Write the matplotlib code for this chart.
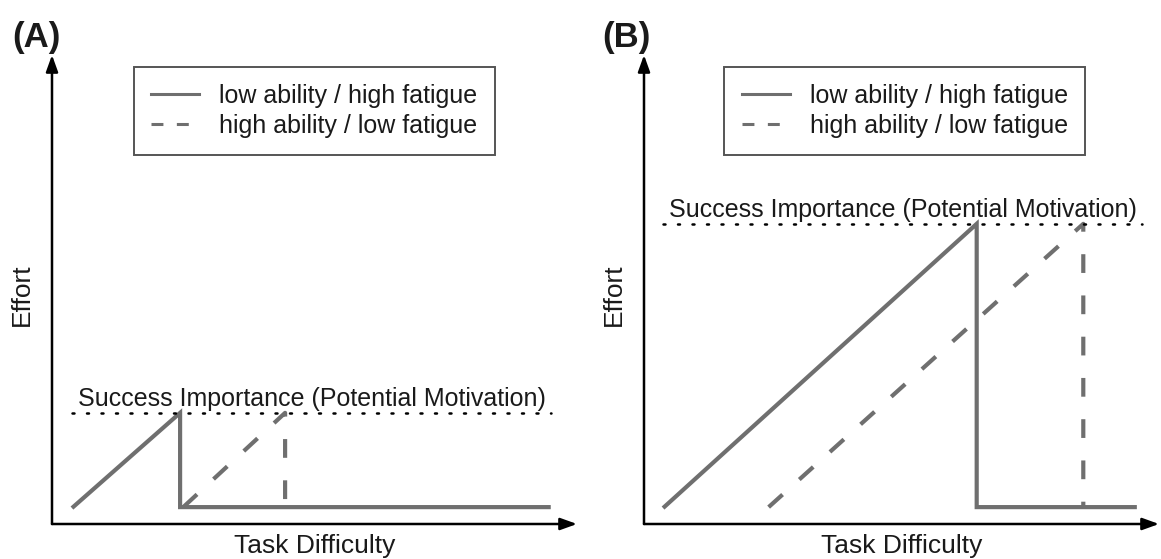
import matplotlib.pyplot as plt
from matplotlib.lines import Line2D

plt.rcParams['font.family'] = ['Liberation Sans', 'DejaVu Sans']

# values (axes run 0..100 in both panels)
panel_labels = ["(A)", "(B)"]
legend_labels = ["low ability / high fatigue", "high ability / low fatigue"]
potential_label = "Success Importance (Potential Motivation)"

a_low_x = [3.8, 24.4, 24.4, 95.0]
a_low_y = [3.4, 23.7, 3.6, 3.6]
a_high_x = [25.0, 44.4, 44.4]
a_high_y = [3.6, 23.7, 3.6]
a_potential = 23.7
a_potential_span = [3.8, 95.0]

b_low_x = [3.7, 64.6, 64.6, 95.7]
b_low_y = [3.4, 64.0, 3.6, 3.6]
b_high_x = [24.2, 85.3, 85.3]
b_high_y = [3.6, 64.0, 3.6]
b_potential = 64.0
b_potential_span = [3.7, 96.7]

LINE_GRAY = '#6f6f6f'
TEXT_COL = '#1a1a1a'
W, H = 1161, 559


def _axes_rect(left_px, right_px, bottom_px, top_px):
    return [left_px / W, (H - bottom_px) / H,
            (right_px - left_px) / W, (bottom_px - top_px) / H]


def _draw_panel(ax, low_x, low_y, high_x, high_y, potential, span, label, label_x_px):
    ax.set_xlim(0, 100)
    ax.set_ylim(0, 100)
    ax.axis('off')

    # axis arrows
    arrow = dict(arrowstyle='-|>,head_length=1.0,head_width=0.36', lw=1.8,
                 color='black', shrinkA=0, shrinkB=0)
    ax.annotate('', xy=(1, 0), xytext=(0, 0), xycoords='axes fraction',
                arrowprops=arrow, annotation_clip=False)
    ax.annotate('', xy=(0, 1), xytext=(0, 0), xycoords='axes fraction',
                arrowprops=arrow, annotation_clip=False)

    ax.plot(low_x, low_y, color=LINE_GRAY, lw=3, solid_joinstyle='miter',
            solid_capstyle='butt', clip_on=False)
    ax.plot(high_x, high_y, color=LINE_GRAY, lw=3, dashes=(4.5, 5.4),
            dash_capstyle='butt', clip_on=False)

    # potential motivation level
    ax.plot(span, [potential, potential], color='black', lw=1.8,
            dashes=(0.8, 5.0), dash_capstyle='round', clip_on=False)
    ax.annotate(potential_label, xy=(span[0], potential), xytext=(4, 5),
                textcoords='offset points', ha='left', va='baseline',
                fontsize=18, color=TEXT_COL)

    ax.annotate('Task Difficulty', xy=(0.5, 0), xycoords='axes fraction',
                xytext=(0, -7), textcoords='offset points', ha='center', va='top',
                fontsize=19, color=TEXT_COL, annotation_clip=False)
    ax.annotate('Effort', xy=(0, 0.49), xycoords='axes fraction',
                xytext=(-13, 0), textcoords='offset points', ha='right', va='center',
                rotation=90, fontsize=19, color=TEXT_COL, annotation_clip=False)

    handles = [
        Line2D([], [], color=LINE_GRAY, lw=2.2),
        Line2D([], [], color=LINE_GRAY, lw=2.2, dashes=(3.9, 4.4)),
    ]
    leg = ax.legend(handles, legend_labels, loc='upper left',
                    bbox_to_anchor=(0.156, 0.975), borderaxespad=0,
                    fontsize=18, handlelength=1.92, handletextpad=0.8,
                    borderpad=0.7, labelspacing=0.22, fancybox=False,
                    frameon=True, edgecolor='#555555', framealpha=1)
    leg.get_frame().set_linewidth(1.4)
    for t in leg.get_texts():
        t.set_color(TEXT_COL)

    ax.figure.text(label_x_px / W, 1 - 37 / H, label, ha='left', va='center',
                   fontsize=25, fontweight='bold', color=TEXT_COL)


fig = plt.figure(figsize=(W / 100, H / 100), dpi=100)
ax_a = fig.add_axes(_axes_rect(52, 577, 524, 55))
ax_b = fig.add_axes(_axes_rect(644, 1159, 524, 55))

_draw_panel(ax_a, a_low_x, a_low_y, a_high_x, a_high_y, a_potential,
            a_potential_span, panel_labels[0], 12)
_draw_panel(ax_b, b_low_x, b_low_y, b_high_x, b_high_y, b_potential,
            b_potential_span, panel_labels[1], 602)

fig.savefig('out.png', dpi=100)
